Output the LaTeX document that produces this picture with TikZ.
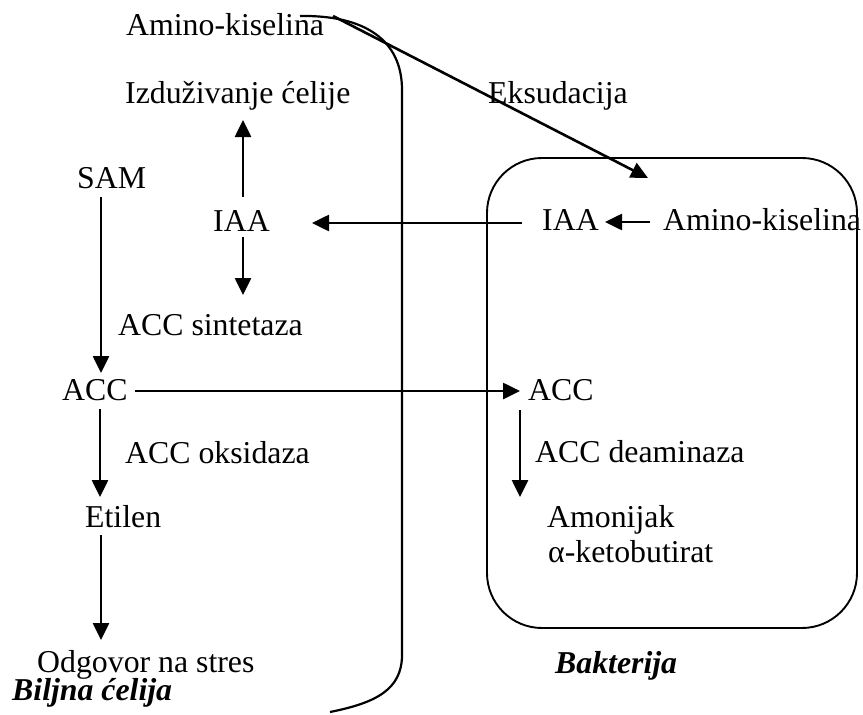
\documentclass[tikz,border=0pt]{standalone}
\usepackage{fontspec}
\setmainfont{Liberation Serif}
\usetikzlibrary{arrows.meta}
\begin{document}
\begin{tikzpicture}[x=1pt,y=-1pt,
  lbl/.style={anchor=base west,inner sep=0pt,font=\fontsize{31.8}{38}\selectfont},
  blbl/.style={lbl,font=\fontsize{31.8}{38}\selectfont\bfseries\itshape},
  arr/.style={line width=2.6pt,-{Triangle[length=17pt,width=16pt]}},
  wall/.style={line width=2.2pt}]
\useasboundingbox (0,0) rectangle (863,715);
% texts
\node[lbl] (aminoT) at (126,35) {Amino-kiselina};
\node[lbl] (izd) at (125,103) {Izduživanje ćelije};
\node[lbl] (eks) at (488,103) {Eksudacija};
\node[lbl] (sam) at (77,188) {SAM};
\node[lbl] (iaaL) at (213,231) {IAA};
\node[lbl] (sint) at (118,335) {ACC sintetaza};
\node[lbl] (accL) at (62,400) {ACC};
\node[lbl] (oks) at (125,463) {ACC oksidaza};
\node[lbl] (etil) at (85,527) {Etilen};
\node[lbl] (odg) at (37,672) {Odgovor na stres};
\node[blbl] (bilj) at (12,700) {Biljna ćelija};
\node[lbl] (iaaR) at (542,230) {IAA};
\node[lbl] (aminoR) at (663,230) {Amino-kiselina};
\node[lbl] (accR) at (528,400) {ACC};
\node[lbl] (deam) at (535,462) {ACC deaminaza};
\node[lbl] (amon) at (547,527) {Amonijak};
\node[lbl] (keto) at (548,562) {α-ketobutirat};
\node[blbl] (bakt) at (555,673) {Bakterija};
% membranes
\draw[line width=1.9pt,rounded corners=55pt] (487,158) rectangle (857,628);
\draw[wall] (300,16) .. controls (365,15) and (402,40) .. (402,90)
  -- (402,655) .. controls (402,690) and (375,703) .. (330,712);
% connector end points
\coordinate (s1) at (101,197); \coordinate (e1) at (101,373);
\coordinate (s2) at (243,197); \coordinate (e2) at (243,120);
\coordinate (s3) at (243,237); \coordinate (e3) at (243,295);
\coordinate (s4) at (522,223); \coordinate (e4) at (312,223);
\coordinate (s5) at (650,222); \coordinate (e5) at (605,222);
\coordinate (s6) at (135,391); \coordinate (e6) at (520,391);
\coordinate (s7) at (100,409); \coordinate (e7) at (100,497);
\coordinate (s8) at (101,535); \coordinate (e8) at (101,640);
\coordinate (s9) at (520,410); \coordinate (e9) at (520,497);
\coordinate (s10) at (333,16); \coordinate (e10) at (648,178);
% connectors
\draw[arr] (s1) -- (e1);
\draw[arr] (s2) -- (e2);
\draw[arr] (s3) -- (e3);
\draw[arr] (s4) -- (e4);
\draw[arr] (s5) -- (e5);
\draw[arr] (s6) -- (e6);
\draw[arr] (s7) -- (e7);
\draw[arr] (s8) -- (e8);
\draw[arr] (s9) -- (e9);
\draw[arr] (s10) -- (e10);
\end{tikzpicture}
\end{document}
